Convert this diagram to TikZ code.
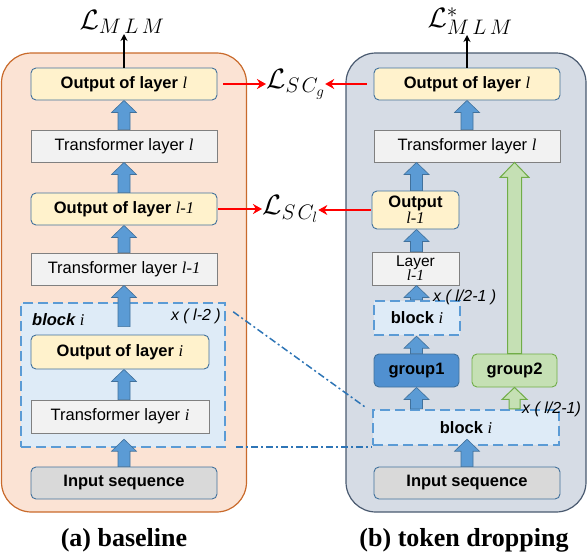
\documentclass[tikz,border=0pt]{standalone}
\usepackage{fix-cm}
\usepackage{fontspec}
\setmainfont{Liberation Sans}
\newfontfamily\ser{Liberation Serif}
\usetikzlibrary{calc,arrows.meta}
\DeclareMathSizes{28}{28}{21}{15}
\definecolor{peach}{HTML}{FBE3D4}
\definecolor{peachb}{HTML}{C96A2B}
\definecolor{slate}{HTML}{D6DCE5}
\definecolor{slateb}{HTML}{4A5A70}
\definecolor{yel}{HTML}{FFF2CC}
\definecolor{bluebd}{HTML}{41719C}
\definecolor{gry}{HTML}{F2F2F2}
\definecolor{grybd}{HTML}{808080}
\definecolor{inp}{HTML}{D9D9D9}
\definecolor{lblue}{HTML}{DEEBF7}
\definecolor{mblue}{HTML}{5B9BD5}
\definecolor{grpb}{HTML}{5090D0}
\definecolor{lgreen}{HTML}{C5E0B4}
\definecolor{dgreen}{HTML}{70AD47}
\definecolor{ddc}{HTML}{2E75B6}
\newcommand\vl[1]{{\ser\mdseries\itshape #1}}
\newcommand\fatarrow[6]{%
  \draw[#1] let \p1=#2, \p2=#3 in
   (\x1-#4pt,\y1) -- (\x1-#4pt,\y2-#6pt) -- (\x1-#5pt,\y2-#6pt) -- (\x1,\y2)
   -- (\x1+#5pt,\y2-#6pt) -- (\x1+#4pt,\y2-#6pt) -- (\x1+#4pt,\y1) -- cycle;}
\tikzset{
  panelA/.style={draw=peachb, fill=peach, rounded corners=30pt, line width=1.2pt, minimum width=245pt, minimum height=459pt, inner sep=0pt},
  panelB/.style={draw=slateb, fill=slate, rounded corners=30pt, line width=1.2pt, minimum width=240pt, minimum height=459pt, inner sep=0pt},
  basebox/.style={inner sep=0pt, line width=0.9pt, font=\fontsize{16.5}{17}\selectfont, align=center},
  yelbox/.style={basebox, draw=bluebd, fill=yel, rounded corners=5pt, font=\fontsize{16.5}{17}\selectfont\bfseries},
  grybox/.style={basebox, draw=grybd, fill=gry},
  inbox/.style={basebox, draw=bluebd, fill=inp, rounded corners=5pt, font=\fontsize{16.5}{17}\selectfont\bfseries},
  dashblock/.style={basebox, draw=mblue, fill=lblue, dash pattern=on 10pt off 5pt, line width=2.4pt, font=\fontsize{16.5}{17}\selectfont\bfseries},
  g1box/.style={basebox, draw=bluebd, fill=grpb, rounded corners=5pt, font=\fontsize{16.5}{17}\selectfont\bfseries},
  g2box/.style={basebox, draw=dgreen, fill=lgreen, rounded corners=5pt, font=\fontsize{16.5}{17}\selectfont\bfseries},
  barr/.style={fill=mblue, draw=bluebd, line width=0.6pt},
  garr/.style={fill=lgreen, draw=dgreen, line width=1pt},
  lossred/.style={draw=red, line width=1.6pt, -{Stealth[length=9pt,width=10pt]}},
  lossblk/.style={draw=black, line width=1.4pt, -{Stealth[length=7pt,width=7pt]}},
  ddline/.style={draw=ddc, line width=1.5pt, dash pattern=on 7pt off 3pt on 2pt off 3pt},
  losslab/.style={inner sep=0pt, font=\fontsize{28}{30}\selectfont},
  mult/.style={inner sep=0pt, font=\fontsize{16}{17}\selectfont\itshape},
  captext/.style={inner sep=0pt, font=\ser\bfseries\fontsize{26}{28}\selectfont}
}
\begin{document}
\begin{tikzpicture}[x=1pt,y=-1pt]
\useasboundingbox (0,0) rectangle (588,554);
% panels
\node[panelA] (panA) at (124,282.5) {};
\node[panelB] (panB) at (466,282.5) {};
% dashed blocks
\node[dashblock, minimum width=204pt, minimum height=144pt] (blockA) at (123,375) {};
\node[dashblock, minimum width=86pt, minimum height=34pt] (blockS) at (417,318) {block \vl{i}};
\node[dashblock, minimum width=186pt, minimum height=35pt] (blockB) at (466,427.5) {block \vl{i}};
% dash-dot connectors
\draw[ddline] ($(blockA.north east)+(7,10)$) -- ($(blockB.north west)+(-7,-2)$);
\coordinate (ddA) at ($(blockA.south east)+(10,-1)$);
\draw[ddline] (ddA) -- (ddA -| blockB.west);
% left column boxes
\node[yelbox, minimum width=186pt, minimum height=32pt] (oL) at (124,84) {Output of layer \vl{l}};
\node[grybox, minimum width=186pt, minimum height=32pt] (tL) at (124,146) {Transformer layer \vl{l}};
\node[yelbox, minimum width=186pt, minimum height=32pt] (oL1) at (124,209) {Output of layer \vl{l-1}};
\node[grybox, minimum width=186pt, minimum height=32pt] (tL1) at (124,269) {Transformer layer \vl{l-1}};
\node[yelbox, minimum width=178pt, minimum height=34pt] (oi) at (120,352) {Output of layer \vl{i}};
\node[grybox, minimum width=178pt, minimum height=33pt] (ti) at (120,416.5) {Transformer layer \vl{i}};
\node[inbox, minimum width=186pt, minimum height=32pt] (inA) at (124,483) {Input sequence};
\node[inner sep=0pt, anchor=west, font=\fontsize{16.5}{17}\selectfont\bfseries\itshape] (blabA) at (32,320) {block \vl{i}};
\node[mult, anchor=east] (xA) at (221,316) {x ( l-2 )};
% right column boxes
\node[yelbox, minimum width=186pt, minimum height=32pt] (oR) at (467,84) {Output of layer \vl{l}};
\node[grybox, minimum width=186pt, minimum height=32pt] (tR) at (467,146) {Transformer layer \vl{l}};
\node[yelbox, minimum width=87pt, minimum height=38pt, font=\fontsize{16.5}{16}\selectfont\bfseries] (oR1) at (415.5,210) {Output\\\vl{l-1}};
\node[grybox, minimum width=87pt, minimum height=33pt, font=\fontsize{15.5}{14}\selectfont] (lR1) at (415.5,268.5) {Layer\\\vl{l-1}};
\node[g1box, minimum width=85pt, minimum height=33pt] (g1) at (416.5,370.5) {group1};
\node[g2box, minimum width=85pt, minimum height=33pt] (g2) at (514.5,370.5) {group2};
\node[inbox, minimum width=186pt, minimum height=32pt] (inB) at (467,483) {Input sequence};
\node[mult, anchor=west] (xS) at (433,297) {x ( l/2-1 )};
\node[mult, anchor=west] (xB) at (522,409) {x ( l/2-1)};
% left arrows
\fatarrow{barr}{(inA.north)}{($(blockA.south)+(0,-9)$)}{6}{12.5}{12}
\fatarrow{barr}{(inA |- ti.north)}{(inA |- oi.south)}{6}{12.5}{12}
\fatarrow{barr}{($(inA |- oi.north)+(0,-8)$)}{(tL1.south)}{6}{12.5}{12}
\fatarrow{barr}{(tL1.north)}{(oL1.south)}{6}{12.5}{12}
\fatarrow{barr}{(oL1.north)}{(tL.south)}{6}{12.5}{12}
\fatarrow{barr}{(tL.north)}{(oL.south)}{6}{12.5}{12}
% right arrows
\fatarrow{barr}{(inB.north)}{($(blockB.south)+(0,-7)$)}{6}{12.5}{12}
\fatarrow{barr}{(g1 |- blockB.north)}{(g1.south)}{6}{12.5}{12}
\fatarrow{barr}{(g1.north)}{(g1 |- blockS.south)}{6}{12.5}{12}
\fatarrow{barr}{(g1 |- blockS.north)}{(g1 |- lR1.south)}{6}{12.5}{12}
\fatarrow{barr}{(g1 |- lR1.north)}{(g1 |- oR1.south)}{6}{12.5}{12}
\fatarrow{barr}{(g1 |- oR1.north)}{(g1 |- tR.south)}{6}{12.5}{12}
\fatarrow{barr}{(tR.north)}{(oR.south)}{6}{12.5}{12}
\fatarrow{garr}{(g2 |- blockB.north)}{(g2.south)}{5.5}{12.5}{12}
\fatarrow{garr}{(g2.north)}{(g2 |- tR.south)}{7}{14.5}{15}
% losses
\node[losslab, anchor=south] (lm) at (122,34) {$\mathcal{L}_{M\mkern3mu L\mkern3mu M}$};
\node[losslab, anchor=south] (lms) at (470,35) {$\mathcal{L}^{*}_{M\mkern3mu L\mkern3mu M}$};
\node[losslab, anchor=west] (scg) at (266,84) {$\mathcal{L}_{S\mkern2mu C_g}$};
\node[losslab, anchor=west] (scl) at (262,209) {$\mathcal{L}_{S\mkern2mu C_l}$};
\draw[lossblk] (oL.north) -- (oL.north |- lm.south);
\draw[lossblk] (oR.north) -- (oR.north |- lms.south);
\draw[lossred, shorten <=6pt] (oL.east) -- (oL.east -| scg.west);
\draw[lossred, shorten <=7pt] (oR.west) -- (oR.west -| scg.east);
\draw[lossred, shorten <=1pt] (oL1.east) -- (oL1.east -| scl.west);
\draw[lossred, shorten <=1pt] (oR1.west) -- (oR1.west -| scl.east);
% captions
\node[captext] (capA) at (124,540) {(a) baseline};
\node[captext] (capB) at (464,540) {(b) token dropping};
\end{tikzpicture}
\end{document}
